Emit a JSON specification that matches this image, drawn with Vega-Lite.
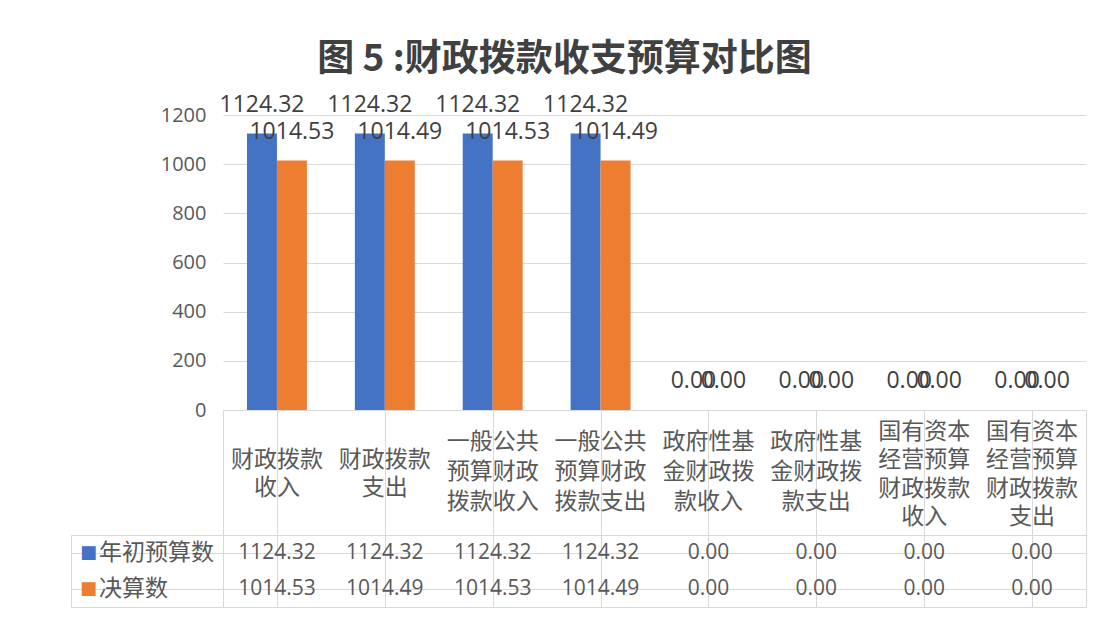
{
  "$schema": "https://vega.github.io/schema/vega-lite/v6.json",
  "padding": {"left": 70, "top": 40, "right": 10, "bottom": 10},
  "background": "white",
  "title": {
    "text": "图 5 :财政拨款收支预算对比图",
    "font": "Noto Sans CJK SC",
    "fontSize": 37,
    "fontWeight": "bold",
    "color": "#404040",
    "anchor": "middle",
    "dx": -14,
    "offset": 15
  },
  "datasets": {
    "cats": [
      {"category": "财政拨款收入", "label": ["财政拨款", "收入"]},
      {"category": "财政拨款支出", "label": ["财政拨款", "支出"]},
      {"category": "一般公共预算财政拨款收入", "label": ["一般公共", "预算财政", "拨款收入"]},
      {"category": "一般公共预算财政拨款支出", "label": ["一般公共", "预算财政", "拨款支出"]},
      {"category": "政府性基金财政拨款收入", "label": ["政府性基", "金财政拨", "款收入"]},
      {"category": "政府性基金财政拨款支出", "label": ["政府性基", "金财政拨", "款支出"]},
      {"category": "国有资本经营预算财政拨款收入", "label": ["国有资本", "经营预算", "财政拨款", "收入"]},
      {"category": "国有资本经营预算财政拨款支出", "label": ["国有资本", "经营预算", "财政拨款", "支出"]}
    ],
    "vals": [
      {"category": "财政拨款收入", "series": "年初预算数", "value": 1124.32},
      {"category": "财政拨款收入", "series": "决算数", "value": 1014.53},
      {"category": "财政拨款支出", "series": "年初预算数", "value": 1124.32},
      {"category": "财政拨款支出", "series": "决算数", "value": 1014.49},
      {"category": "一般公共预算财政拨款收入", "series": "年初预算数", "value": 1124.32},
      {"category": "一般公共预算财政拨款收入", "series": "决算数", "value": 1014.53},
      {"category": "一般公共预算财政拨款支出", "series": "年初预算数", "value": 1124.32},
      {"category": "一般公共预算财政拨款支出", "series": "决算数", "value": 1014.49},
      {"category": "政府性基金财政拨款收入", "series": "年初预算数", "value": 0},
      {"category": "政府性基金财政拨款收入", "series": "决算数", "value": 0},
      {"category": "政府性基金财政拨款支出", "series": "年初预算数", "value": 0},
      {"category": "政府性基金财政拨款支出", "series": "决算数", "value": 0},
      {"category": "国有资本经营预算财政拨款收入", "series": "年初预算数", "value": 0},
      {"category": "国有资本经营预算财政拨款收入", "series": "决算数", "value": 0},
      {"category": "国有资本经营预算财政拨款支出", "series": "年初预算数", "value": 0},
      {"category": "国有资本经营预算财政拨款支出", "series": "决算数", "value": 0}
    ],
    "series": [
      {"series": "年初预算数"},
      {"series": "决算数"}
    ]
  },
  "columns": 2,
  "spacing": 0,
  "bounds": "flush",
  "concat": [
    {
      "width": 152, "height": 295,
      "data": {"values": []},
      "mark": "point",
      "encoding": {},
      "view": {"stroke": null}
    },
    {
      "width": 863, "height": 295,
      "data": {"name": "vals"},
      "view": {"stroke": null},
      "encoding": {
        "x": {"field": "category", "type": "nominal", "sort": null, "scale": {"paddingInner": 0, "paddingOuter": 0}, "axis": null},
        "xOffset": {"field": "series", "type": "nominal", "sort": ["年初预算数", "决算数"], "scale": {"paddingInner": 0, "paddingOuter": 0.8}},
        "y": {
          "field": "value", "type": "quantitative",
          "scale": {"domain": [0, 1200]},
          "axis": {
            "values": [0, 200, 400, 600, 800, 1000, 1200],
            "format": "d",
            "title": null, "domain": false, "ticks": false,
            "grid": true, "gridColor": "#d9d9d9",
            "labelFont": "Open Sans", "labelFontSize": 20, "labelColor": "#595959", "labelPadding": 17
          }
        }
      },
      "layer": [
        {
          "mark": {"type": "bar"},
          "encoding": {
            "color": {"field": "series", "type": "nominal", "scale": {"domain": ["年初预算数", "决算数"], "range": ["#4472C4", "#ED7D31"]}, "legend": null}
          }
        },
        {
          "mark": {"type": "text", "font": "Open Sans", "fontSize": 23, "color": "#404040", "baseline": "alphabetic", "dy": -22},
          "encoding": {
            "text": {"field": "value", "type": "quantitative", "format": ".2f"}
          }
        }
      ]
    },
    {
      "width": 152, "height": 125,
      "data": {"values": []},
      "mark": "point",
      "encoding": {},
      "view": {"stroke": null}
    },
    {
      "width": 863, "height": 125,
      "data": {"name": "cats"},
      "view": {"stroke": "#d9d9d9"},
      "encoding": {
        "x": {"field": "category", "type": "nominal", "sort": null, "scale": {"paddingInner": 0, "paddingOuter": 0},
              "axis": {"orient": "top", "labels": false, "ticks": false, "domain": false, "title": null, "grid": true, "gridColor": "#d9d9d9", "bandPosition": 0}},
        "text": {"field": "label"}
      },
      "layer": [
        {
          "transform": [{"filter": "length(datum.label) == 2"}],
          "mark": {"type": "text", "font": "Noto Sans CJK SC", "fontSize": 23, "lineHeight": 28, "color": "#595959", "baseline": "middle", "dy": -13}
        },
        {
          "transform": [{"filter": "length(datum.label) == 3"}],
          "mark": {"type": "text", "font": "Noto Sans CJK SC", "fontSize": 23, "lineHeight": 30, "color": "#595959", "baseline": "middle", "dy": -31}
        },
        {
          "transform": [{"filter": "length(datum.label) == 4"}],
          "mark": {"type": "text", "font": "Noto Sans CJK SC", "fontSize": 23, "lineHeight": 28.5, "color": "#595959", "baseline": "middle", "dy": -41}
        }
      ]
    },
    {
      "width": 152, "height": 72,
      "data": {"name": "series"},
      "view": {"stroke": "#d9d9d9"},
      "encoding": {
        "y": {"field": "series", "type": "nominal", "sort": ["年初预算数", "决算数"], "scale": {"paddingInner": 0, "paddingOuter": 0},
              "axis": {"labels": false, "ticks": false, "domain": false, "title": null, "grid": true, "gridColor": "#d9d9d9", "bandPosition": 0}}
      },
      "layer": [
        {
          "mark": {"type": "text", "text": "■", "font": "DejaVu Sans", "fontSize": 18, "align": "left", "dx": -67},
          "encoding": {
            "color": {"field": "series", "type": "nominal", "scale": {"domain": ["年初预算数", "决算数"], "range": ["#4472C4", "#ED7D31"]}, "legend": null}
          }
        },
        {
          "mark": {"type": "text", "font": "Noto Sans CJK SC", "fontSize": 23, "align": "left", "dx": -48, "color": "#595959"},
          "encoding": {
            "text": {"field": "series"}
          }
        }
      ]
    },
    {
      "width": 863, "height": 72,
      "data": {"name": "vals"},
      "view": {"stroke": "#d9d9d9"},
      "mark": {"type": "text", "font": "Open Sans", "fontSize": 21, "color": "#595959"},
      "encoding": {
        "x": {"field": "category", "type": "nominal", "sort": null, "scale": {"paddingInner": 0, "paddingOuter": 0},
              "axis": {"orient": "top", "labels": false, "ticks": false, "domain": false, "title": null, "grid": true, "gridColor": "#d9d9d9", "bandPosition": 0}},
        "y": {"field": "series", "type": "nominal", "sort": ["年初预算数", "决算数"], "scale": {"paddingInner": 0, "paddingOuter": 0},
              "axis": {"labels": false, "ticks": false, "domain": false, "title": null, "grid": true, "gridColor": "#d9d9d9", "bandPosition": 0}},
        "text": {"field": "value", "type": "quantitative", "format": ".2f"}
      }
    }
  ]
}
